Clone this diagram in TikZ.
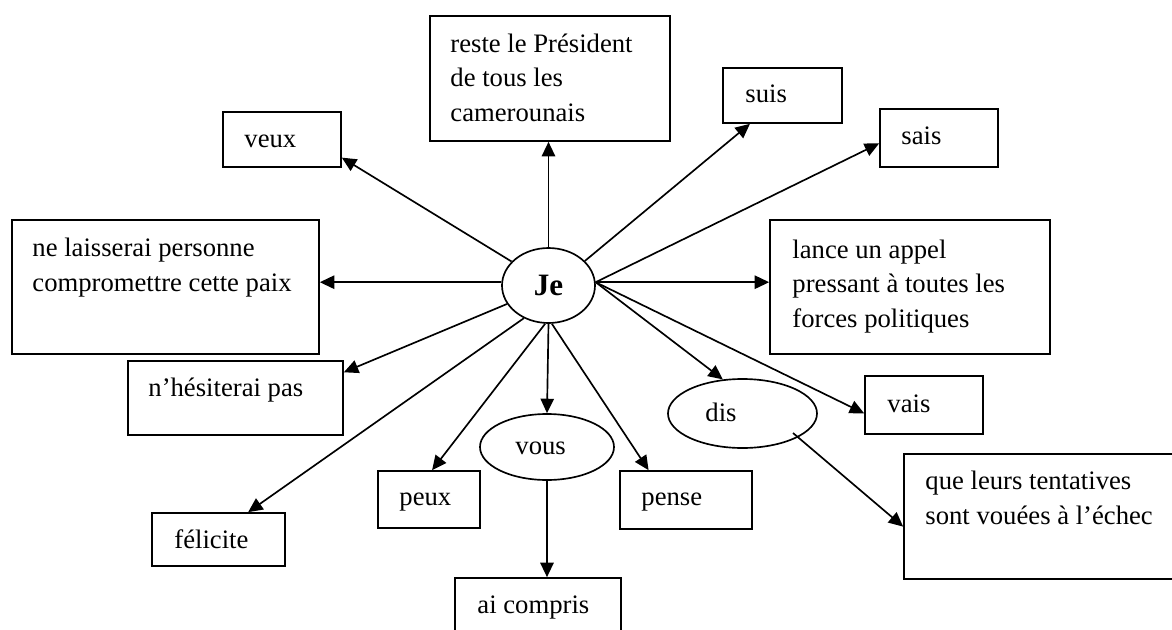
\documentclass[tikz,border=0pt]{standalone}
\usepackage{fontspec}
\setmainfont{Liberation Serif}
\usetikzlibrary{arrows.meta,shapes.geometric,fit,calc}
\begin{document}
\begin{tikzpicture}[x=0.45pt,y=-0.45pt,
  box/.style={draw,rectangle,inner sep=0pt,line width=0.75pt},
  oval/.style={draw,ellipse,inner sep=0pt,line width=0.75pt},
  % multi-line texts sit on the baseline of their last line
  txt/.style={anchor=base west,inner sep=0pt,align=left,
    font=\fontsize{12}{15.5}\selectfont},
  link/.style={line width=0.75pt,-{Triangle[length=6.5pt,width=6pt]}},
]
\path[use as bounding box] (0,0) rectangle (1172,630);
\clip (0,0) rectangle (1172,630);

% boxes
\node[box,fit={(223,112)(341,167)}] (veux) {};
\node[box,fit={(12,220)(319,354)}] (laisse) {};
\node[box,fit={(430,16)(670,141)}] (reste) {};
\node[box,fit={(723,68)(842,123)}] (suis) {};
\node[box,fit={(880,109)(998,167)}] (sais) {};
\node[box,fit={(770,220)(1050,354)}] (lance) {};
\node[box,fit={(128,361)(343,435)}] (hesite) {};
\node[box,fit={(152,513)(285,566)}] (felicite) {};
\node[box,fit={(378,471)(480,528)}] (peux) {};
\node[box,fit={(620,471)(752,529)}] (pense) {};
\node[box,fit={(455,578)(621,645)}] (compris) {};
\node[box,fit={(865,376)(983,434)}] (vais) {};
\node[box,fit={(904,454)(1185,579)}] (echec) {};

% ellipses
\node[oval,minimum width=41.85pt,minimum height=33.75pt,
  font=\fontsize{14}{17}\selectfont\bfseries] (je) at (548.5,285.5) {Je};
\node[oval,minimum width=60.3pt,minimum height=29.7pt] (vous) at (547,447) {};
\node[oval,minimum width=67.05pt,minimum height=31.05pt] (dis) at (742.5,413.5) {};

% texts
\node[txt] (tveux) at (244,147) {veux};
\node[txt] (tlaisse) at (32,291) {ne laisserai personne\\compromettre cette paix};
\node[txt] (treste) at (450,121) {reste le Président\\de tous les\\camerounais};
\node[txt] (tsuis) at (745,102) {suis};
\node[txt] (tsais) at (901,144) {sais};
\node[txt] (tlance) at (792,327) {lance un appel\\pressant à toutes les\\forces politiques};
\node[txt] (thesite) at (148,396) {n’hésiterai pas};
\node[txt] (tfelicite) at (174,548) {félicite};
\node[txt] (tpeux) at (399,505) {peux};
\node[txt] (tpense) at (641,505) {pense};
\node[txt] (tcompris) at (477,613) {ai compris};
\node[txt] (tvous) at (515,454) {vous};
\node[txt] (tdis) at (705,421) {dis};
\node[txt] (tvais) at (887,412) {vais};
\node[txt] (techec) at (925,524) {que leurs tentatives\\sont vouées à l’échec};

% connectors
\draw[link] (je.147) -- ($(veux.south east)!0.18!(veux.north east)$);
\draw[link] (je.north) -- (je.north |- reste.south);
\draw[link] (je.34) -- ($(suis.south west)!0.23!(suis.south east)$);
\draw[link] (je.4) -- ($(sais.north west)!0.59!(sais.south west)$);
\draw[link] (je.176) -- (je.176 -| laisse.east);
\draw[link] (je.4) -- (je.4 -| lance.west);
\draw[link] (je.204) -- ($(hesite.north east)!0.16!(hesite.south east)$);
\draw[link] (je.233) -- ($(felicite.north west)!0.72!(felicite.north east)$);
\draw[link] (je.265) -- ($(peux.north west)!0.53!(peux.north east)$);
\draw[link] (je.south) -- (vous.north);
\draw[link] (je.275) -- ($(pense.north west)!0.22!(pense.north east)$);
\draw[link] (je.4) -- (dis.120);
\draw[link] (je.4) -- ($(vais.north west)!0.64!(vais.south west)$);
\draw[link] (vous.south) -- (vous.south |- compris.north);
\coordinate (disout) at (793,433);
\draw[link] (disout) -- ($(echec.north west)!0.58!(echec.south west)$);
\end{tikzpicture}
\end{document}
